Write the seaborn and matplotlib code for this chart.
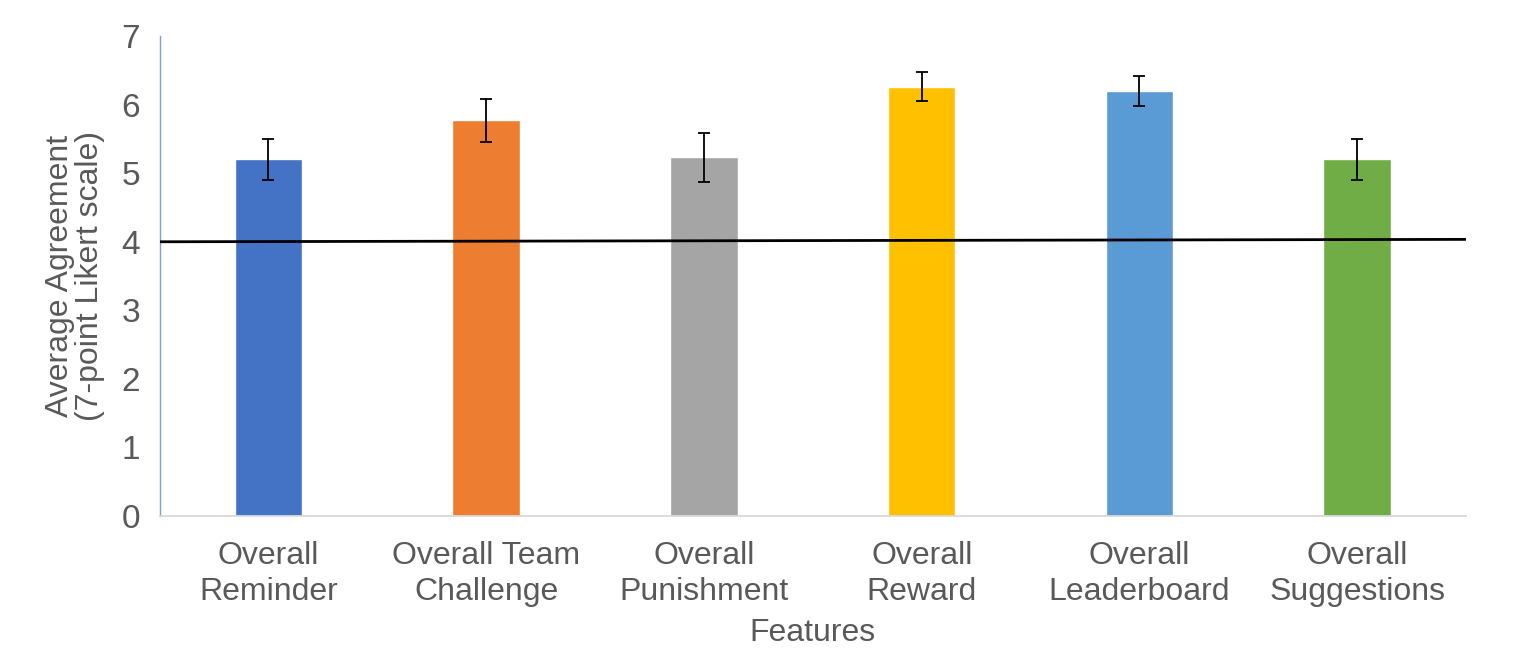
import numpy as np
import pandas as pd
import matplotlib
matplotlib.use('Agg')
import matplotlib.pyplot as plt
import seaborn as sns

sns.set_style('white')
plt.rcParams['font.family'] = ['Liberation Sans', 'DejaVu Sans']

# Data
features = ['Overall\nReminder', 'Overall Team\nChallenge', 'Overall\nPunishment',
            'Overall\nReward', 'Overall\nLeaderboard', 'Overall\nSuggestions']
means = [5.20, 5.77, 5.23, 6.26, 6.20, 5.20]
errors = [0.30, 0.31, 0.36, 0.21, 0.22, 0.30]
neutral_line = [4.0, 4.035]  # reference line, slightly tilted in the original
colors = ['#4472C4', '#ED7D31', '#A5A5A5', '#FFC000', '#5B9BD5', '#70AD47']

df = pd.DataFrame({'Feature': features, 'Mean': means, 'Err': errors})

fig = plt.figure(figsize=(15.2, 6.62), dpi=100)
ax = fig.add_axes([0.105, 0.2205, 0.8595, 0.725])

sns.barplot(data=df, x='Feature', y='Mean', hue='Feature', palette=colors,
            width=0.31, errorbar=None, legend=False, saturation=1, ax=ax)

ax.errorbar(x=np.arange(len(features)), y=df['Mean'], yerr=df['Err'],
            fmt='none', ecolor='black', elinewidth=1.3, capsize=4.5, capthick=1.3)

# neutral reference line
ax.plot([-0.5, len(features) - 0.5], neutral_line, color='black', lw=2, zorder=5)

ax.set_xlim(-0.5, len(features) - 0.5)
ax.set_ylim(0, 7)
ax.set_yticks(range(0, 8))

grey = '#595959'
for s in ['top', 'right']:
    ax.spines[s].set_visible(False)
ax.spines['left'].set_color('#7F9FCF')
ax.spines['left'].set_linewidth(1)
ax.spines['bottom'].set_color('#D9D9D9')
ax.spines['bottom'].set_linewidth(1.3)

ax.tick_params(axis='y', which='major', length=6, width=1, color='#7F9FCF',
               labelsize=24, labelcolor=grey, pad=8)
ax.tick_params(axis='x', which='major', length=0, labelsize=23,
               labelcolor=grey, pad=18)
ax.set_xticks(np.arange(-0.5, len(features)), minor=True)
ax.tick_params(axis='x', which='minor', length=9, width=1.3, color='#D9D9D9')
for lab in ax.get_xticklabels():
    lab.set_linespacing(1.25)

ax.set_xlabel('Features', fontsize=23, color=grey, labelpad=8)
ax.set_ylabel('Average Agreement\n(7-point Likert scale)', fontsize=23,
              color=grey, labelpad=12, linespacing=1.0)

fig.savefig('out.png', dpi=100)
